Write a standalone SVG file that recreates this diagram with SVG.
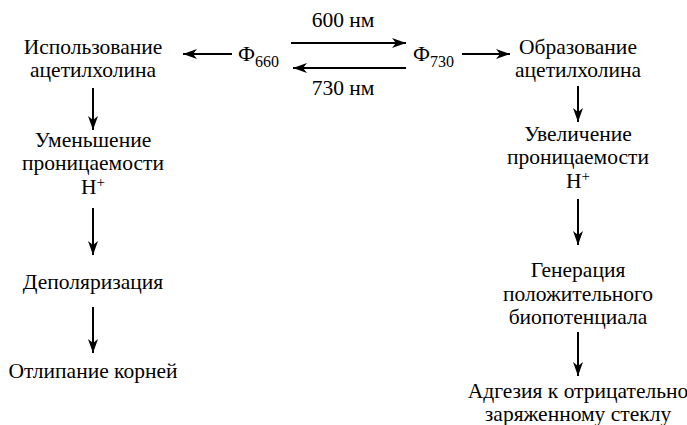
<svg xmlns="http://www.w3.org/2000/svg" width="687" height="425" viewBox="0 0 687 425">
<style>
text{font-family:'Liberation Serif','Times New Roman',Times,serif;font-size:21.5px;fill:#000;text-anchor:middle}
.l{text-anchor:start}
.sub{font-size:16px}
.sup{font-size:15px}
line{stroke:#000;stroke-width:2}
</style>
<defs>
<marker id="ah" markerUnits="userSpaceOnUse" markerWidth="16" markerHeight="12" refX="14" refY="5" orient="auto">
<path d="M0,0 L14,5 L0,10 L4,5 z" fill="#000"/>
</marker>
</defs>
<rect width="687" height="425" fill="#fff"/>
<g id="connectors">
<line x1="232" y1="54" x2="183" y2="54" marker-end="url(#ah)"/>
<line x1="291" y1="43" x2="406" y2="43" marker-end="url(#ah)"/>
<line x1="406" y1="68" x2="293" y2="68" marker-end="url(#ah)"/>
<line x1="462" y1="54" x2="510" y2="54" marker-end="url(#ah)"/>
<line x1="93" y1="88" x2="93" y2="130" marker-end="url(#ah)"/>
<line x1="93" y1="208" x2="93" y2="255" marker-end="url(#ah)"/>
<line x1="93" y1="307" x2="93" y2="353" marker-end="url(#ah)"/>
<line x1="578" y1="86" x2="578" y2="122" marker-end="url(#ah)"/>
<line x1="578" y1="199" x2="578" y2="245" marker-end="url(#ah)"/>
<line x1="578" y1="332" x2="578" y2="376" marker-end="url(#ah)"/>
</g>
<g id="label600"><text x="343" y="27">600 нм</text></g>
<g id="label730"><text x="343" y="95">730 нм</text></g>
<g id="phi660"><text class="l" x="238" y="61">Ф<tspan class="sub" dy="6">660</tspan></text></g>
<g id="phi730"><text class="l" x="413" y="61">Ф<tspan class="sub" dy="6">730</tspan></text></g>
<g id="use">
<text x="93" y="54">Использование</text>
<text x="93" y="77">ацетилхолина</text>
</g>
<g id="decrease">
<text x="93" y="147">Уменьшение</text>
<text x="93" y="170">проницаемости</text>
<text x="93" y="194">H<tspan class="sup" dy="-7">+</tspan></text>
</g>
<g id="depol"><text x="93" y="289">Деполяризация</text></g>
<g id="detach"><text x="93" y="378">Отлипание корней</text></g>
<g id="form">
<text x="578" y="54">Образование</text>
<text x="578" y="77">ацетилхолина</text>
</g>
<g id="increase">
<text x="578" y="141">Увеличение</text>
<text x="578" y="164">проницаемости</text>
<text x="578" y="188">H<tspan class="sup" dy="-7">+</tspan></text>
</g>
<g id="gen">
<text x="578" y="277">Генерация</text>
<text x="578" y="301">положительного</text>
<text x="578" y="324">биопотенциала</text>
</g>
<g id="adhesion">
<text x="578" y="398">Адгезия к отрицательно</text>
<text x="578" y="421">заряженному стеклу</text>
</g>
</svg>
